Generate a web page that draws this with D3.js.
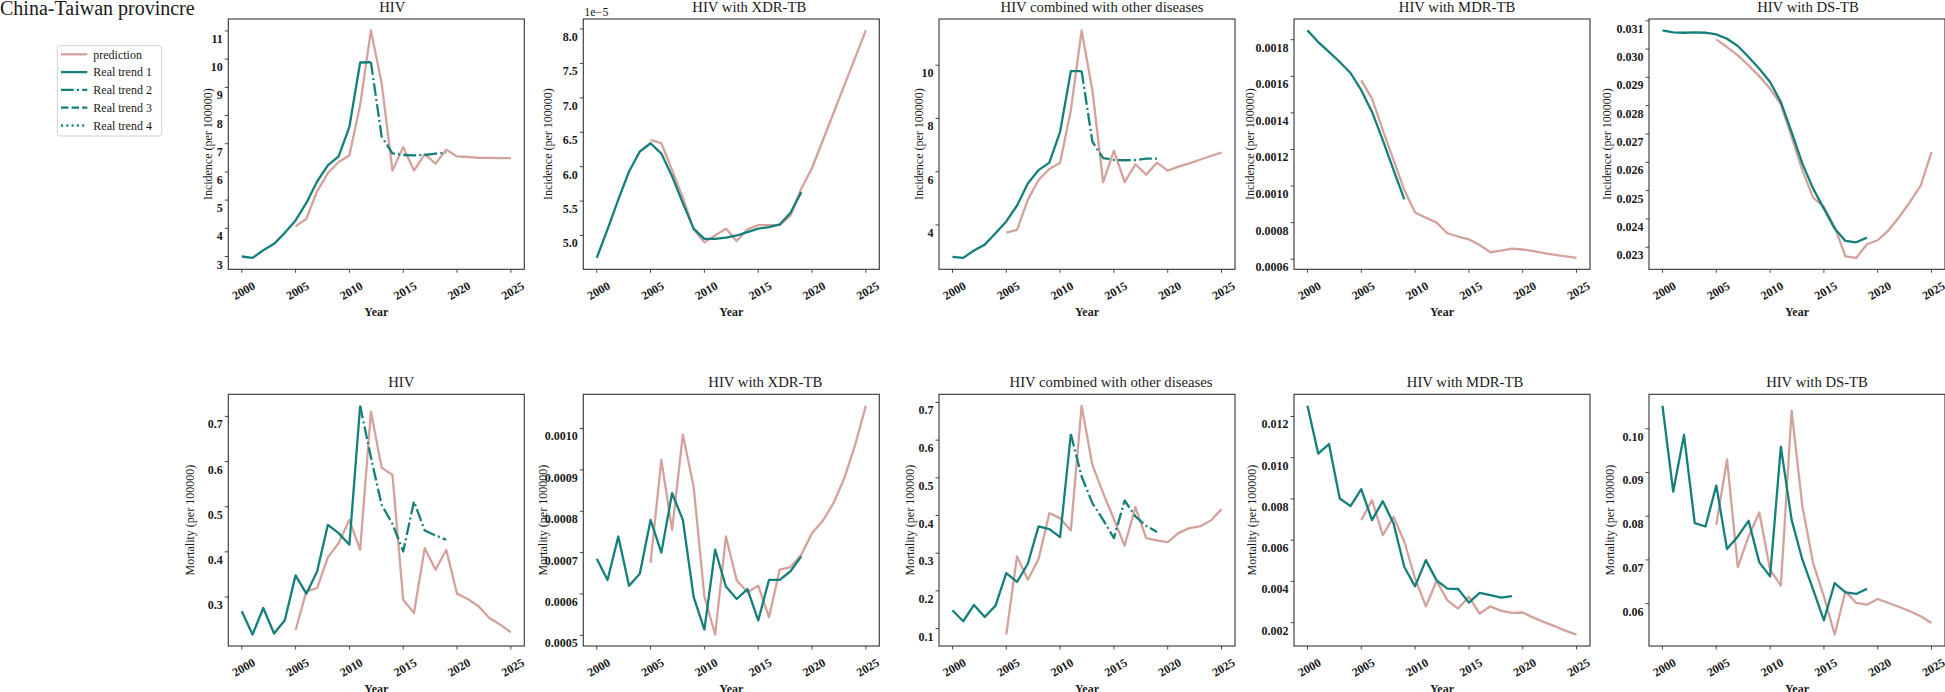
<!DOCTYPE html>
<html><head><meta charset="utf-8">
<script src="https://cdn.jsdelivr.net/npm/d3@7"></script>
<style>
body{margin:0;background:#fff;}
text{font-family:"Liberation Serif","Times New Roman",serif;fill:#1a1a1a;}
</style></head><body>
<svg id="chart" width="1945" height="692"></svg>
<script>
// ---------------- DATA ----------------
const realYears = [2000,2001,2002,2003,2004,2005,2006,2007,2008,2009,2010,2011,2012,2013,2014,2015,2016,2017,2018,2019];
const predYears = [2005,2006,2007,2008,2009,2010,2011,2012,2013,2014,2015,2016,2017,2018,2019,2020,2021,2022,2023,2024,2025];
const xTicks = [2000,2005,2010,2015,2020,2025];

const titles = ["HIV","HIV with XDR-TB","HIV combined with other diseases","HIV with MDR-TB","HIV with DS-TB"];
const yLabels = ["Incidence (per 100000)","Mortality (per 100000)"];

// Incidence
const incHIV_real = [3.0,2.95,3.22,3.45,3.84,4.28,4.9,5.66,6.23,6.55,7.6,9.88,9.89,7.25,6.66,6.6,6.59,6.6,6.65,6.68];
const incHIV_pred = [4.07,4.34,5.31,5.96,6.35,6.58,8.37,11.02,9.14,6.05,6.88,6.05,6.63,6.29,6.79,6.55,6.53,6.5,6.5,6.49,6.49];
const incXDR_real = [4.674,5.09,5.52,5.93,6.22,6.34,6.19,5.86,5.47,5.10,4.95,4.95,4.97,5.0,5.05,5.10,5.12,5.16,5.33,5.63]; // x1e-5
const incXDR_pred = [6.39,6.34,5.95,5.55,5.09,4.90,5.0,5.1,4.92,5.09,5.15,5.15,5.15,5.29,5.68,5.98,6.38,6.78,7.18,7.58,7.98]; // x1e-5
const incOther_real = [2.8,2.76,3.04,3.26,3.69,4.13,4.73,5.56,6.06,6.34,7.5,9.78,9.78,7.13,6.51,6.44,6.43,6.44,6.49,6.49];
const incOther_pred = [3.71,3.81,4.94,5.69,6.1,6.34,8.31,11.31,9.06,5.61,6.78,5.61,6.28,5.89,6.34,6.04,6.19,6.31,6.45,6.59,6.72];
const incMDR_real = [0.001851,0.001787,0.001733,0.001678,0.001618,0.001524,0.001405,0.001251,0.001087,0.000927];
const incMDR_pred = [0.001578,0.001478,0.001305,0.001142,0.000978,0.000855,0.000827,0.0008,0.000742,0.000724,0.000709,0.000678,0.000638,0.000647,0.000658,0.000653,0.000644,0.000633,0.000624,0.000615,0.000607];
const incDS_real = [0.030659,0.030588,0.030576,0.030588,0.030576,0.030518,0.030365,0.030106,0.029718,0.029306,0.028835,0.028129,0.02707,0.025953,0.025071,0.024365,0.023659,0.023224,0.023176,0.023341];
const incDS_pred = [0.030341,0.03007,0.029776,0.029424,0.029035,0.0286,0.028047,0.026894,0.025718,0.024753,0.024424,0.023718,0.022682,0.022624,0.023106,0.023247,0.0236,0.024071,0.0246,0.025188,0.026365];

// Mortality
const morHIV_real = [0.2683,0.2168,0.2757,0.219,0.2484,0.3479,0.3074,0.3567,0.4599,0.4414,0.4157,0.7236,0.6094,0.504,0.462,0.4009,0.5114,0.4473,0.4363,0.4267];
const morHIV_pred = [0.2263,0.3125,0.3199,0.3877,0.4193,0.4709,0.4046,0.7103,0.5866,0.5704,0.2941,0.2646,0.4083,0.3604,0.4046,0.3074,0.2956,0.2794,0.2536,0.2389,0.222];
const morXDR_real = [0.000685,0.000634,0.000739,0.00062,0.000649,0.000779,0.0007,0.000844,0.000779,0.000593,0.000514,0.000707,0.000618,0.000588,0.000612,0.000536,0.000634,0.000634,0.000655,0.000691];
const morXDR_pred = [0.000675,0.000924,0.000755,0.000985,0.00086,0.000594,0.000502,0.000739,0.000633,0.000604,0.00062,0.000544,0.000659,0.000665,0.000695,0.000747,0.000777,0.00082,0.00088,0.00096,0.001055];
const morOther_real = [0.1485,0.1194,0.1627,0.1309,0.1609,0.2474,0.2236,0.2721,0.371,0.3639,0.3427,0.6163,0.5034,0.4327,0.3886,0.34,0.4398,0.3974,0.3727,0.356];
const morOther_pred = [0.0841,0.2915,0.2297,0.2845,0.4063,0.393,0.3604,0.6913,0.5342,0.4592,0.3904,0.3198,0.4222,0.34,0.3339,0.3295,0.3533,0.3666,0.371,0.3868,0.4169];
const morMDR_real = [0.01252,0.0102,0.01066,0.00802,0.00765,0.00847,0.00697,0.00789,0.00681,0.0047,0.00376,0.00503,0.00405,0.00365,0.00363,0.00297,0.00344,0.00333,0.00321,0.00328];
const morMDR_pred = [0.00697,0.00794,0.00624,0.00713,0.00592,0.00414,0.00279,0.00402,0.00308,0.00268,0.00325,0.00244,0.00279,0.00257,0.00247,0.00249,0.00224,0.00202,0.00182,0.0016,0.00142];
const morDS_real = [0.10525,0.08563,0.09856,0.0784,0.07764,0.087,0.07247,0.07536,0.07894,0.06943,0.06624,0.09589,0.07916,0.07004,0.0632,0.0562,0.06471,0.06259,0.06221,0.06342];
const morDS_pred = [0.07802,0.093,0.06837,0.07536,0.08084,0.06776,0.06411,0.10411,0.08221,0.06928,0.06167,0.05293,0.06281,0.06015,0.05977,0.06106,0.06015,0.05924,0.05825,0.05711,0.05559];

// Year where real trend 1 ends and real trend 2 begins (null = single trend)
const trendBreaks = [[2012,null,2012,null,null],[2011,null,2011,null,null]];

// Tick labels
const ticksIncHIV = [3,4,5,6,7,8,9,10,11];
const ticksIncXDR = [5.0,5.5,6.0,6.5,7.0,7.5,8.0];
const ticksIncOther = [4,6,8,10];
const ticksIncMDR = [0.0006,0.0008,0.0010,0.0012,0.0014,0.0016,0.0018];
const ticksIncDS = [0.023,0.024,0.025,0.026,0.027,0.028,0.029,0.030,0.031];
const ticksMorHIV = [0.3,0.4,0.5,0.6,0.7];
const ticksMorXDR = [0.0005,0.0006,0.0007,0.0008,0.0009,0.0010];
const ticksMorOther = [0.1,0.2,0.3,0.4,0.5,0.6,0.7];
const ticksMorMDR = [0.002,0.004,0.006,0.008,0.010,0.012];
const ticksMorDS = [0.06,0.07,0.08,0.09,0.10];

const legendLabels = ["prediction","Real trend 1","Real trend 2","Real trend 3","Real trend 4"];

// ---------------- TABLE FOR LIBRARY ----------------
const panels = [
  [
    {real:incHIV_real, pred:incHIV_pred, ticks:ticksIncHIV, fmt:".0f"},
    {real:incXDR_real, pred:incXDR_pred, ticks:ticksIncXDR, fmt:".1f", offset:"1e\u22125"},
    {real:incOther_real, pred:incOther_pred, ticks:ticksIncOther, fmt:".0f"},
    {real:incMDR_real, pred:incMDR_pred, ticks:ticksIncMDR, fmt:".4f"},
    {real:incDS_real, pred:incDS_pred, ticks:ticksIncDS, fmt:".3f"}
  ],
  [
    {real:morHIV_real, pred:morHIV_pred, ticks:ticksMorHIV, fmt:".1f"},
    {real:morXDR_real, pred:morXDR_pred, ticks:ticksMorXDR, fmt:".4f"},
    {real:morOther_real, pred:morOther_pred, ticks:ticksMorOther, fmt:".1f"},
    {real:morMDR_real, pred:morMDR_pred, ticks:ticksMorMDR, fmt:".3f"},
    {real:morDS_real, pred:morDS_pred, ticks:ticksMorDS, fmt:".2f"}
  ]
];

// ---------------- LAYOUT / STYLE ----------------
const colLeft = [228.3, 583.3, 939, 1294, 1649];
const panelW = 296;
const rowTop = [19, 394.3];
const rowBottom = [269.3, 646];
const yLabelOffset = [[20, 35.6, 20, 44, 42.3],[38.3, 40.6, 29, 41.7, 39]];
const titleShift = [[16, 18, 15, 15, 11],[25, 34, 24, 23, 20]];
const predColor = "#d4a29c";
const realColor = "#158079";
const spineColor = "#333";
const lineW = 2.3;
const dashDot = "12.8,3.2,2,3.2";
const dashed = "7.4,3.2";
const dotted = "2,3.3";

const svg = d3.select("#chart");

// Main title
svg.append("text").attr("x",0).attr("y",15).attr("font-size",20).text("China-Taiwan provincre");

// Legend
const lg = svg.append("g");
lg.append("rect").attr("x",57.3).attr("y",45.7).attr("width",104.4).attr("height",90.3)
  .attr("rx",2.5).attr("fill","#fff").attr("stroke","#d0d0d0").attr("stroke-width",1);
const legendStyles = [
  {c:predColor, d:null},
  {c:realColor, d:null},
  {c:realColor, d:dashDot},
  {c:realColor, d:dashed},
  {c:realColor, d:dotted}
];
legendLabels.forEach((lab,i)=>{
  const y = 54.3 + i*17.8;
  lg.append("line").attr("x1",61).attr("x2",87.3).attr("y1",y).attr("y2",y)
    .attr("stroke",legendStyles[i].c).attr("stroke-width",lineW)
    .attr("stroke-dasharray",legendStyles[i].d);
  lg.append("text").attr("x",93.3).attr("y",y+4.2).attr("font-size",12).text(lab);
});

panels.forEach((row,r)=>{
  row.forEach((p,c)=>{
    const left = colLeft[c], right = left+panelW, top = rowTop[r], bottom = rowBottom[r];
    const x = d3.scaleLinear().domain([1998.75, 2026.25]).range([left,right]);
    const realY = realYears.slice(0,p.real.length);
    const all = p.real.concat(p.pred);
    const lo = d3.min(all), hi = d3.max(all), pad = (hi-lo)*0.05;
    const y = d3.scaleLinear().domain([lo-pad, hi+pad]).range([bottom, top]);
    const g = svg.append("g");

    // lines
    const line = d3.line().x(d=>x(d[0])).y(d=>y(d[1]));
    const predPts = predYears.map((yr,i)=>[yr,p.pred[i]]);
    g.append("path").attr("d",line(predPts)).attr("fill","none")
      .attr("stroke",predColor).attr("stroke-width",lineW).attr("stroke-linejoin","round");
    const realPts = realY.map((yr,i)=>[yr,p.real[i]]);
    const br = trendBreaks[r][c];
    const seg1 = br===null ? realPts : realPts.filter(d=>d[0]<=br);
    g.append("path").attr("d",line(seg1)).attr("fill","none")
      .attr("stroke",realColor).attr("stroke-width",lineW).attr("stroke-linejoin","round");
    if (br!==null){
      const seg2 = realPts.filter(d=>d[0]>=br);
      g.append("path").attr("d",line(seg2)).attr("fill","none")
        .attr("stroke",realColor).attr("stroke-width",lineW).attr("stroke-linejoin","round")
        .attr("stroke-dasharray",dashDot);
    }

    // spines
    g.append("rect").attr("x",left).attr("y",top).attr("width",panelW).attr("height",bottom-top)
      .attr("fill","none").attr("stroke",spineColor).attr("stroke-width",1.1);

    // y ticks
    const fmt = d3.format(p.fmt);
    p.ticks.forEach(t=>{
      const ty = y(t);
      g.append("line").attr("x1",left-3.5).attr("x2",left).attr("y1",ty).attr("y2",ty)
        .attr("stroke",spineColor).attr("stroke-width",0.9);
      g.append("text").attr("x",left-5.5).attr("y",ty+12).attr("text-anchor","end")
        .attr("font-size",12).attr("font-weight","bold").text(fmt(t));
    });
    // x ticks
    xTicks.forEach(t=>{
      const tx = x(t);
      g.append("line").attr("x1",tx).attr("x2",tx).attr("y1",bottom).attr("y2",bottom+3.5)
        .attr("stroke",spineColor).attr("stroke-width",0.9);
      g.append("text").attr("transform",`translate(${tx+2},${bottom+21.5}) rotate(-30)`)
        .attr("text-anchor","middle").attr("dominant-baseline","central")
        .attr("font-size",12).attr("font-weight","bold").text(t);
    });
    // labels
    g.append("text").attr("x",(left+right)/2).attr("y",bottom+46.5).attr("text-anchor","middle")
      .attr("font-size",12).attr("font-weight","bold").text("Year");
    g.append("text").attr("transform",`translate(${left-yLabelOffset[r][c]},${(top+bottom)/2}) rotate(-90)`)
      .attr("text-anchor","middle").attr("dominant-baseline","central")
      .attr("font-size",12).text(yLabels[r]);
    g.append("text").attr("x",(left+right)/2+titleShift[r][c]).attr("y",top-7.5).attr("text-anchor","middle")
      .attr("font-size",14.7).text(titles[c]);
    if (p.offset){
      g.append("text").attr("x",left+1).attr("y",top-3).attr("font-size",12).text(p.offset);
    }
  });
});
</script>
</body></html>
